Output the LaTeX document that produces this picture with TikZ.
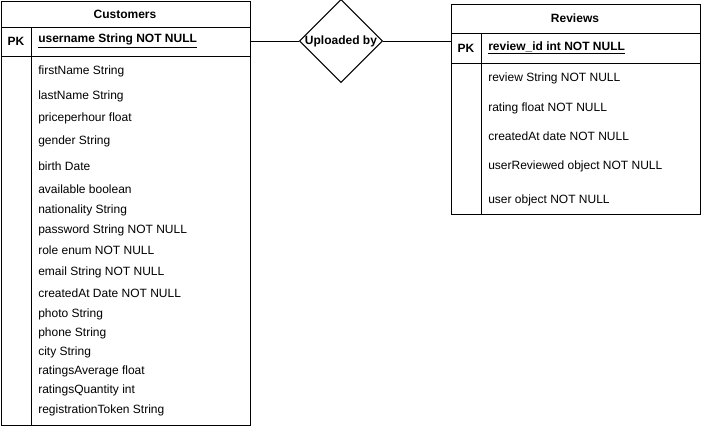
\documentclass[tikz,border=0pt]{standalone}
\usepackage{fontspec}
\setmainfont{Liberation Sans}
\usetikzlibrary{shapes.geometric}

\tikzset{
  tablebox/.style={draw, line width=0.75pt, minimum width=249*0.75pt, inner sep=0pt, anchor=north west},
  attr/.style={anchor=west, inner sep=0pt, font=\fontsize{9}{10}\selectfont},
  title/.style={inner sep=0pt, font=\fontsize{9}{10}\selectfont\bfseries},
  rel/.style={draw, diamond, line width=0.75pt, minimum width=80*0.75pt, minimum height=80*0.75pt, inner sep=0pt, font=\fontsize{9}{10}\selectfont\bfseries},
  link/.style={line width=0.75pt}
}

\begin{document}
\begin{tikzpicture}[x=0.75pt,y=-0.75pt]
  \useasboundingbox (0,0) rectangle (701,426);

  % Customers
  \node[tablebox, minimum height=424*0.75pt] (cust) at (1,1) {};
  \draw[link] (1,27) -- (250,27) (1,56) -- (250,56) (31,27) -- (31,425);
  \node[title] (custtitle) at (125,14) {Customers};
  \node[title] (custpk) at (16,41) {PK};
  \node[attr, font=\fontsize{9}{10}\selectfont\bfseries] (custkey) at (38,41) {\underline{username String NOT NULL}};
  \foreach \y/\t [count=\i] in {71/firstName String, 96/lastName String, 118/priceperhour float,
      141/gender String, 166/birth Date, 189/available boolean, 210/nationality String,
      230/password String NOT NULL, 250/role enum NOT NULL, 272/email String NOT NULL,
      293/createdAt Date NOT NULL, 314/photo String, 333/phone String, 352/city String,
      371/ratingsAverage float, 390/ratingsQuantity int, 410/registrationToken String}
    \node[attr] (c\i) at (38,\y) {\t};

  % Reviews
  \node[tablebox, minimum height=210*0.75pt] (rev) at (451,4) {};
  \draw[link] (451,33) -- (700,33) (451,63) -- (700,63) (481,33) -- (481,214);
  \node[title] (revtitle) at (575,18) {Reviews};
  \node[title] (revpk) at (466,48) {PK};
  \node[attr, font=\fontsize{9}{10}\selectfont\bfseries] (revkey) at (488,48) {\underline{review\_id int NOT NULL}};
  \foreach \y/\t [count=\i] in {78/review String NOT NULL, 108/rating float NOT NULL,
      136/createdAt date NOT NULL, 166/userReviewed object NOT NULL, 200/user object NOT NULL}
    \node[attr] (r\i) at (488,\y) {\t};

  % relation
  \node[rel] (upl) at (341,41) {Uploaded by};
  \draw[link] (cust.east |- upl.west) -- (upl.west);
  \draw[link] (upl.east) -- (rev.west |- upl.east);
\end{tikzpicture}
\end{document}
